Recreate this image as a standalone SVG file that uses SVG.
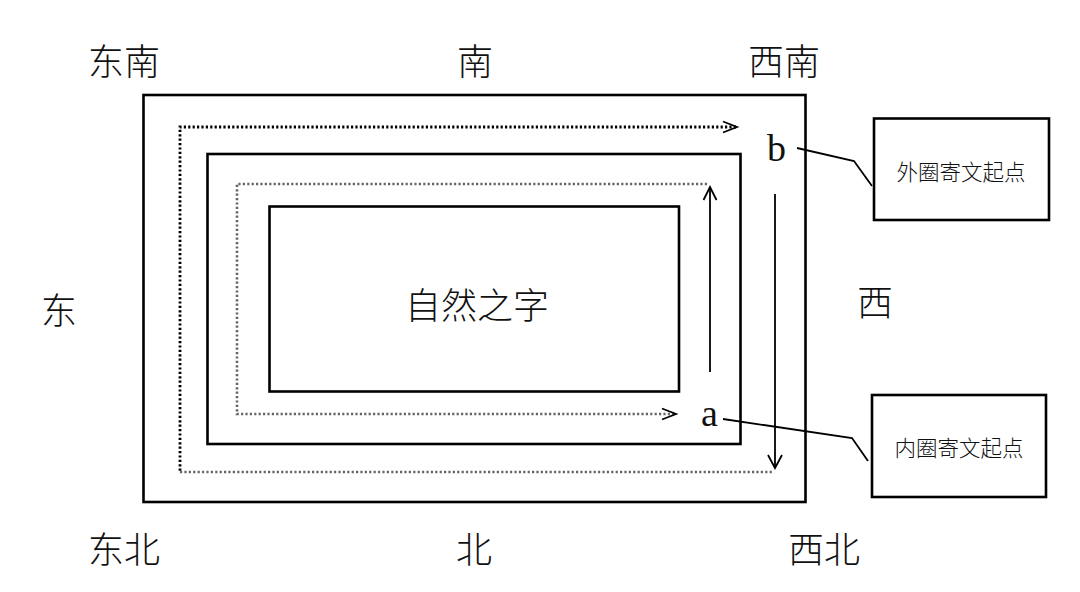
<svg xmlns="http://www.w3.org/2000/svg" width="1080" height="592" viewBox="0 0 1080 592">
<style>
.frame{fill:none;stroke:#000;stroke-width:2.6}
.dot{fill:none;stroke:#000;stroke-width:2.8;stroke-dasharray:2.2 2.2}
.dotg{fill:none;stroke:#666;stroke-width:2.6;stroke-dasharray:2.2 2.2}
.ln{fill:none;stroke:#000;stroke-width:1.8}
.cj{font-family:"Noto Sans CJK SC","Noto Sans CJK JP",sans-serif;font-weight:300;fill:#111;text-anchor:middle;dominant-baseline:central}
.dir{font-size:36px}
.lbl{font-family:"Liberation Serif","DejaVu Serif",serif;font-size:38px;fill:#111}
</style>
<rect width="1080" height="592" fill="#fff"/>
<g id="directions">
<text class="cj dir" x="124" y="59">东南</text>
<text class="cj dir" x="475" y="59">南</text>
<text class="cj dir" x="784" y="59">西南</text>
<text class="cj dir" x="59" y="308">东</text>
<text class="cj dir" x="875" y="300">西</text>
<text class="cj dir" x="124" y="547">东北</text>
<text class="cj dir" x="474" y="547">北</text>
<text class="cj dir" x="824" y="547">西北</text>
</g>
<g id="outer-frame"><rect class="frame" x="143.5" y="95" width="662" height="407"/></g>
<g id="middle-frame"><rect class="frame" x="207.5" y="154" width="533" height="290"/></g>
<g id="inner-frame">
<rect class="frame" x="269.5" y="206.5" width="409.5" height="185"/>
<text class="cj" x="477" y="303" font-size="36">自然之字</text>
</g>
<g id="label-b"><text class="lbl" x="767" y="161">b</text></g>
<g id="label-a"><text class="lbl" x="701" y="426">a</text></g>
<g id="outer-start-box">
<rect class="frame" x="874" y="118.5" width="175" height="101.5" stroke-width="2.2"/>
<text class="cj" x="961" y="170" font-size="21.5">外圈寄文起点</text>
</g>
<g id="inner-start-box">
<rect class="frame" x="872" y="395" width="174" height="102" stroke-width="2.2"/>
<text class="cj" x="959" y="446" font-size="21.5">内圈寄文起点</text>
</g>
<g id="connectors">
<path class="dot" d="M736,127 L180,127 L180,472"/>
<path class="dotg" d="M180,472 L773,472"/>
<path class="ln" d="M723,121.5 L737,127 L723,132.5"/>
<path class="dotg" d="M707,184 L237,184 L237,414 L674,414"/>
<path class="ln" d="M662,408.5 L676,414 L662,419.5"/>
<path class="ln" d="M710,372 L710,188"/>
<path class="ln" d="M703.5,200 L710,187 L716.5,200"/>
<path class="ln" d="M775,194 L775,467"/>
<path class="ln" d="M768,455 L775,468 L782,455"/>
<path class="ln" d="M797,148 L854,161 L872,186"/>
<path class="ln" d="M723,419 L852,438 L868,461"/>
</g>
</svg>
